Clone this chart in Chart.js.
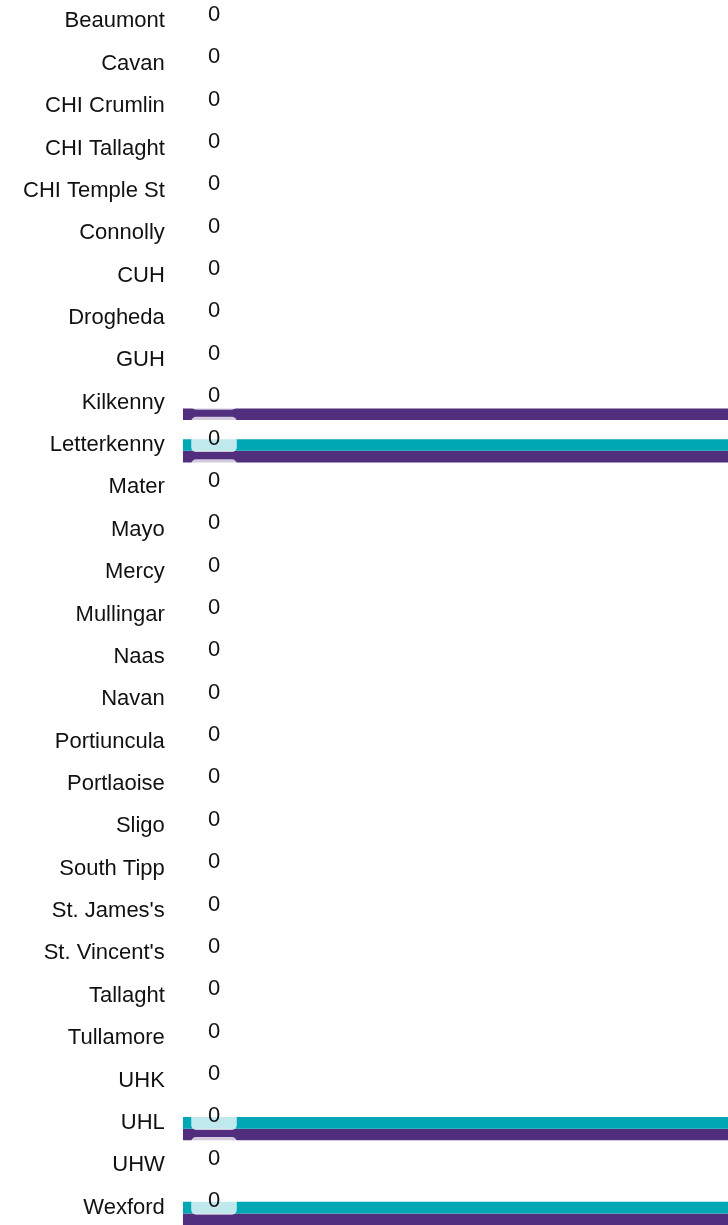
<!DOCTYPE html>
<html>
<head>
<meta charset="utf-8">
<script src="https://cdn.jsdelivr.net/npm/chart.js@4"></script>
<style>
  body { margin: 0; background: #fff; overflow: hidden; }
  /* taller than the window and pulled up so the label padding sits off screen */
  .chart-box { position: relative; width: 728px; height: 1291px; margin-top: -31px; }
</style>
</head>
<body>
<div class="chart-box">
  <canvas id="hospitalChart"></canvas>
</div>
<script>
// Hospitals shown down the y axis
const hospitals = [
  'Beaumont', 'Cavan', 'CHI Crumlin', 'CHI Tallaght', 'CHI Temple St',
  'Connolly', 'CUH', 'Drogheda', 'GUH', 'Kilkenny', 'Letterkenny',
  'Mater', 'Mayo', 'Mercy', 'Mullingar', 'Naas', 'Navan', 'Portiuncula',
  'Portlaoise', 'Sligo', 'South Tipp', "St. James's", "St. Vincent's",
  'Tallaght', 'Tullamore', 'UHK', 'UHL', 'UHW', 'Wexford'
];

// Series values (teal and purple bars run past the right edge)
const labelValues  = [0,0,0,0,0,0,0,0,0,0,0,0,0,0,0,0,0,0,0,0,0,0,0,0,0,0,0,0,0];
const tealValues   = [0,0,0,0,0,0,0,0,0,0,10,0,0,0,0,0,0,0,0,0,0,0,0,0,0,0,10,0,10];
const purpleValues = [0,0,0,0,0,0,0,0,0,10,10,0,0,0,0,0,0,0,0,0,0,0,0,0,0,0,10,0,10];
const xMax = 10;

const fontFamily = "Arial, 'Liberation Sans', Helvetica, sans-serif";

/* Draws the "0" value boxes for the first dataset */
const valueBoxes = {
  id: 'valueBoxes',
  afterDatasetsDraw(chart) {
    const ctx = chart.ctx;
    const meta = chart.getDatasetMeta(0);
    const x0 = chart.scales.x.getPixelForValue(0);
    ctx.save();
    ctx.font = '22px ' + fontFamily;
    ctx.textAlign = 'center';
    ctx.textBaseline = 'middle';
    meta.data.forEach(function(bar, i) {
      const w = 45.6, h = 35.3;
      const left = x0 + 8.4;
      const top = bar.y + 1 - h / 2;
      ctx.fillStyle = 'rgba(255,255,255,0.75)';
      ctx.beginPath();
      ctx.roundRect(left, top, w, h, 5);
      ctx.fill();
      ctx.fillStyle = '#111';
      ctx.fillText(String(labelValues[i]), left + w / 2, bar.y + 5);
    });
    ctx.restore();
  }
};

const ctx = document.getElementById('hospitalChart').getContext('2d');
new Chart(ctx, {
  type: 'bar',
  data: {
    labels: hospitals,
    datasets: [
      { label: 'Values', data: labelValues, backgroundColor: 'rgba(0,0,0,0)' },
      { label: 'Teal', data: tealValues, backgroundColor: '#00a7b5' },
      { label: 'Purple', data: purpleValues, backgroundColor: '#512f7e' }
    ]
  },
  options: {
    indexAxis: 'y',
    responsive: true,
    maintainAspectRatio: false,
    animation: false,
    categoryPercentage: 0.82,
    barPercentage: 1,
    layout: { padding: { left: 5, right: 0, top: 0, bottom: 0 } },
    scales: {
      x: {
        display: false,
        min: 0,
        max: xMax
      },
      y: {
        grid: { display: false, drawTicks: false },
        border: { display: false },
        ticks: {
          color: '#111',
          padding: 18,
          font: { size: 22, family: fontFamily }
        }
      }
    },
    plugins: {
      legend: { display: false },
      tooltip: { enabled: false }
    }
  },
  plugins: [valueBoxes]
});
</script>
</body>
</html>
